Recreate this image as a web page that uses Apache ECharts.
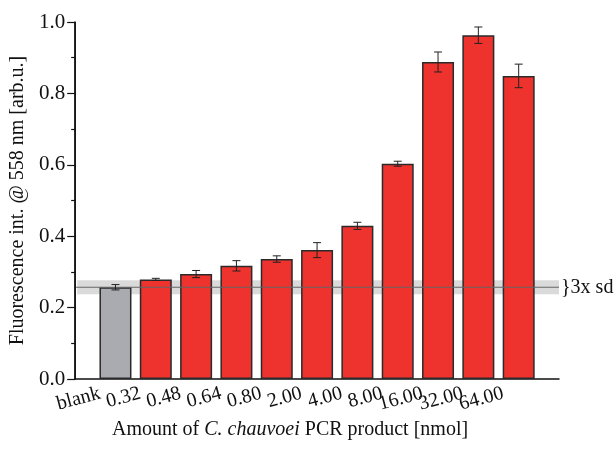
<!DOCTYPE html>
<html>
<head>
<meta charset="utf-8">
<script src="https://cdn.jsdelivr.net/npm/echarts@6/dist/echarts.min.js"></script>
<style>
  html, body { margin: 0; padding: 0; background: #fff; }
  #chart { width: 614px; height: 452px; }
</style>
</head>
<body>
<div id="chart"></div>
<script>
const categories = ['blank', '0.32', '0.48', '0.64', '0.80', '2.00', '4.00', '8.00', '16.00', '32.00', '64.00'];
const means = [0.257, 0.279, 0.294, 0.317, 0.336, 0.361, 0.429, 0.603, 0.888, 0.963, 0.849];
const errors = [0.0075, 0.003, 0.010, 0.0145, 0.009, 0.021, 0.010, 0.007, 0.028, 0.023, 0.033];
const threshold = 0.257;
const thresholdSd = 0.0195;
const yTicks = [0, 0.2, 0.4, 0.6, 0.8, 1.0];

const FONT = '"Liberation Serif", "DejaVu Serif", serif';

const chart = echarts.init(document.getElementById('chart'));

// bar i sits at x = i + 1, so the y axis (on x = 0) is the left edge
const barData = means.map((v, i) => ({
  value: [i + 1, v],
  itemStyle: { color: i === 0 ? '#a9abb0' : '#ee322e' }
}));
const errData = means.map((v, i) => [i + 1, v - errors[i], v + errors[i]]);

chart.setOption({
  animation: false,
  backgroundColor: '#fff',
  grid: { left: 75, right: 55, top: 22, bottom: 73 },
  xAxis: {
    type: 'value',
    min: 0,
    max: 12,
    interval: 1,
    splitLine: { show: false },
    axisTick: { show: false },
    axisLine: { show: true, lineStyle: { color: '#111', width: 1.5 } },
    axisLabel: {
      rotate: 15,
      margin: 10,
      padding: [0, 16, 0, 0],
      fontFamily: FONT,
      fontSize: 20,
      color: '#111',
      formatter: (v) => categories[v - 1] || ''
    },
    name: '{n|Amount of }{i|C. chauvoei}{n| PCR product [nmol]}',
    nameLocation: 'middle',
    nameGap: 38,
    nameTextStyle: {
      padding: [0, 54, 0, 0],
      rich: {
        n: { fontFamily: FONT, fontSize: 20, color: '#111' },
        i: { fontFamily: FONT, fontSize: 20, color: '#111', fontStyle: 'italic' }
      }
    }
  },
  yAxis: {
    type: 'value',
    min: 0,
    max: 1,
    interval: 0.2,
    splitLine: { show: false },
    axisLine: { show: true, lineStyle: { color: '#111', width: 1.5 } },
    axisTick: { show: true, length: 8, lineStyle: { color: '#111', width: 1.2 } },
    minorTick: { show: true, splitNumber: 2, length: 4, lineStyle: { color: '#111', width: 1.2 } },
    axisLabel: {
      margin: 10,
      fontFamily: FONT,
      fontSize: 21,
      color: '#111',
      formatter: (v) => yTicks.some(t => Math.abs(t - v) < 1e-6) ? v.toFixed(1) : ''
    },
    name: 'Fluorescence int. @ 558 nm [arb.u.]',
    nameLocation: 'middle',
    nameGap: 42,
    nameTextStyle: { fontFamily: FONT, fontSize: 20, color: '#111' }
  },
  series: [
    {
      type: 'bar',
      data: barData,
      barWidth: 32,
      itemStyle: { borderColor: '#2a2a2a', borderWidth: 1.5 },
      z: 2
    },
    {
      type: 'line',
      data: [[0, threshold], [12, threshold]],
      symbol: 'none',
      lineStyle: { color: '#666', width: 1.2 },
      z: 4,
      endLabel: {
        show: true,
        formatter: '}3x sd',
        distance: 2,
        fontFamily: FONT,
        fontSize: 20,
        color: '#111'
      },
      markArea: {
        silent: true,
        itemStyle: { color: 'rgba(150,150,150,0.35)' },
        data: [[
          { xAxis: 0.05, yAxis: threshold - thresholdSd },
          { xAxis: 12, yAxis: threshold + thresholdSd }
        ]]
      }
    },
    {
      type: 'custom',
      data: errData,
      z: 5,
      renderItem: (params, api) => {
        const x = api.coord([api.value(0), api.value(1)])[0];
        const lo = api.coord([api.value(0), api.value(1)])[1];
        const hi = api.coord([api.value(0), api.value(2)])[1];
        const w = 4;
        const style = { stroke: '#222', lineWidth: 1 };
        return {
          type: 'group',
          children: [
            { type: 'line', shape: { x1: x, y1: lo, x2: x, y2: hi }, style },
            { type: 'line', shape: { x1: x - w, y1: lo, x2: x + w, y2: lo }, style },
            { type: 'line', shape: { x1: x - w, y1: hi, x2: x + w, y2: hi }, style }
          ]
        };
      }
    }
  ]
});

// left axis line, placed through the chart's own scale (x = 0, y from 0 to 1)
const p0 = chart.convertToPixel({ gridIndex: 0 }, [0, 0]);
const p1 = chart.convertToPixel({ gridIndex: 0 }, [0, 1]);
chart.setOption({
  graphic: [{
    type: 'line',
    z: 100,
    silent: true,
    shape: { x1: p0[0], y1: p0[1], x2: p1[0], y2: p1[1] },
    style: { stroke: '#111', lineWidth: 1.5 }
  }]
});
</script>
</body>
</html>
